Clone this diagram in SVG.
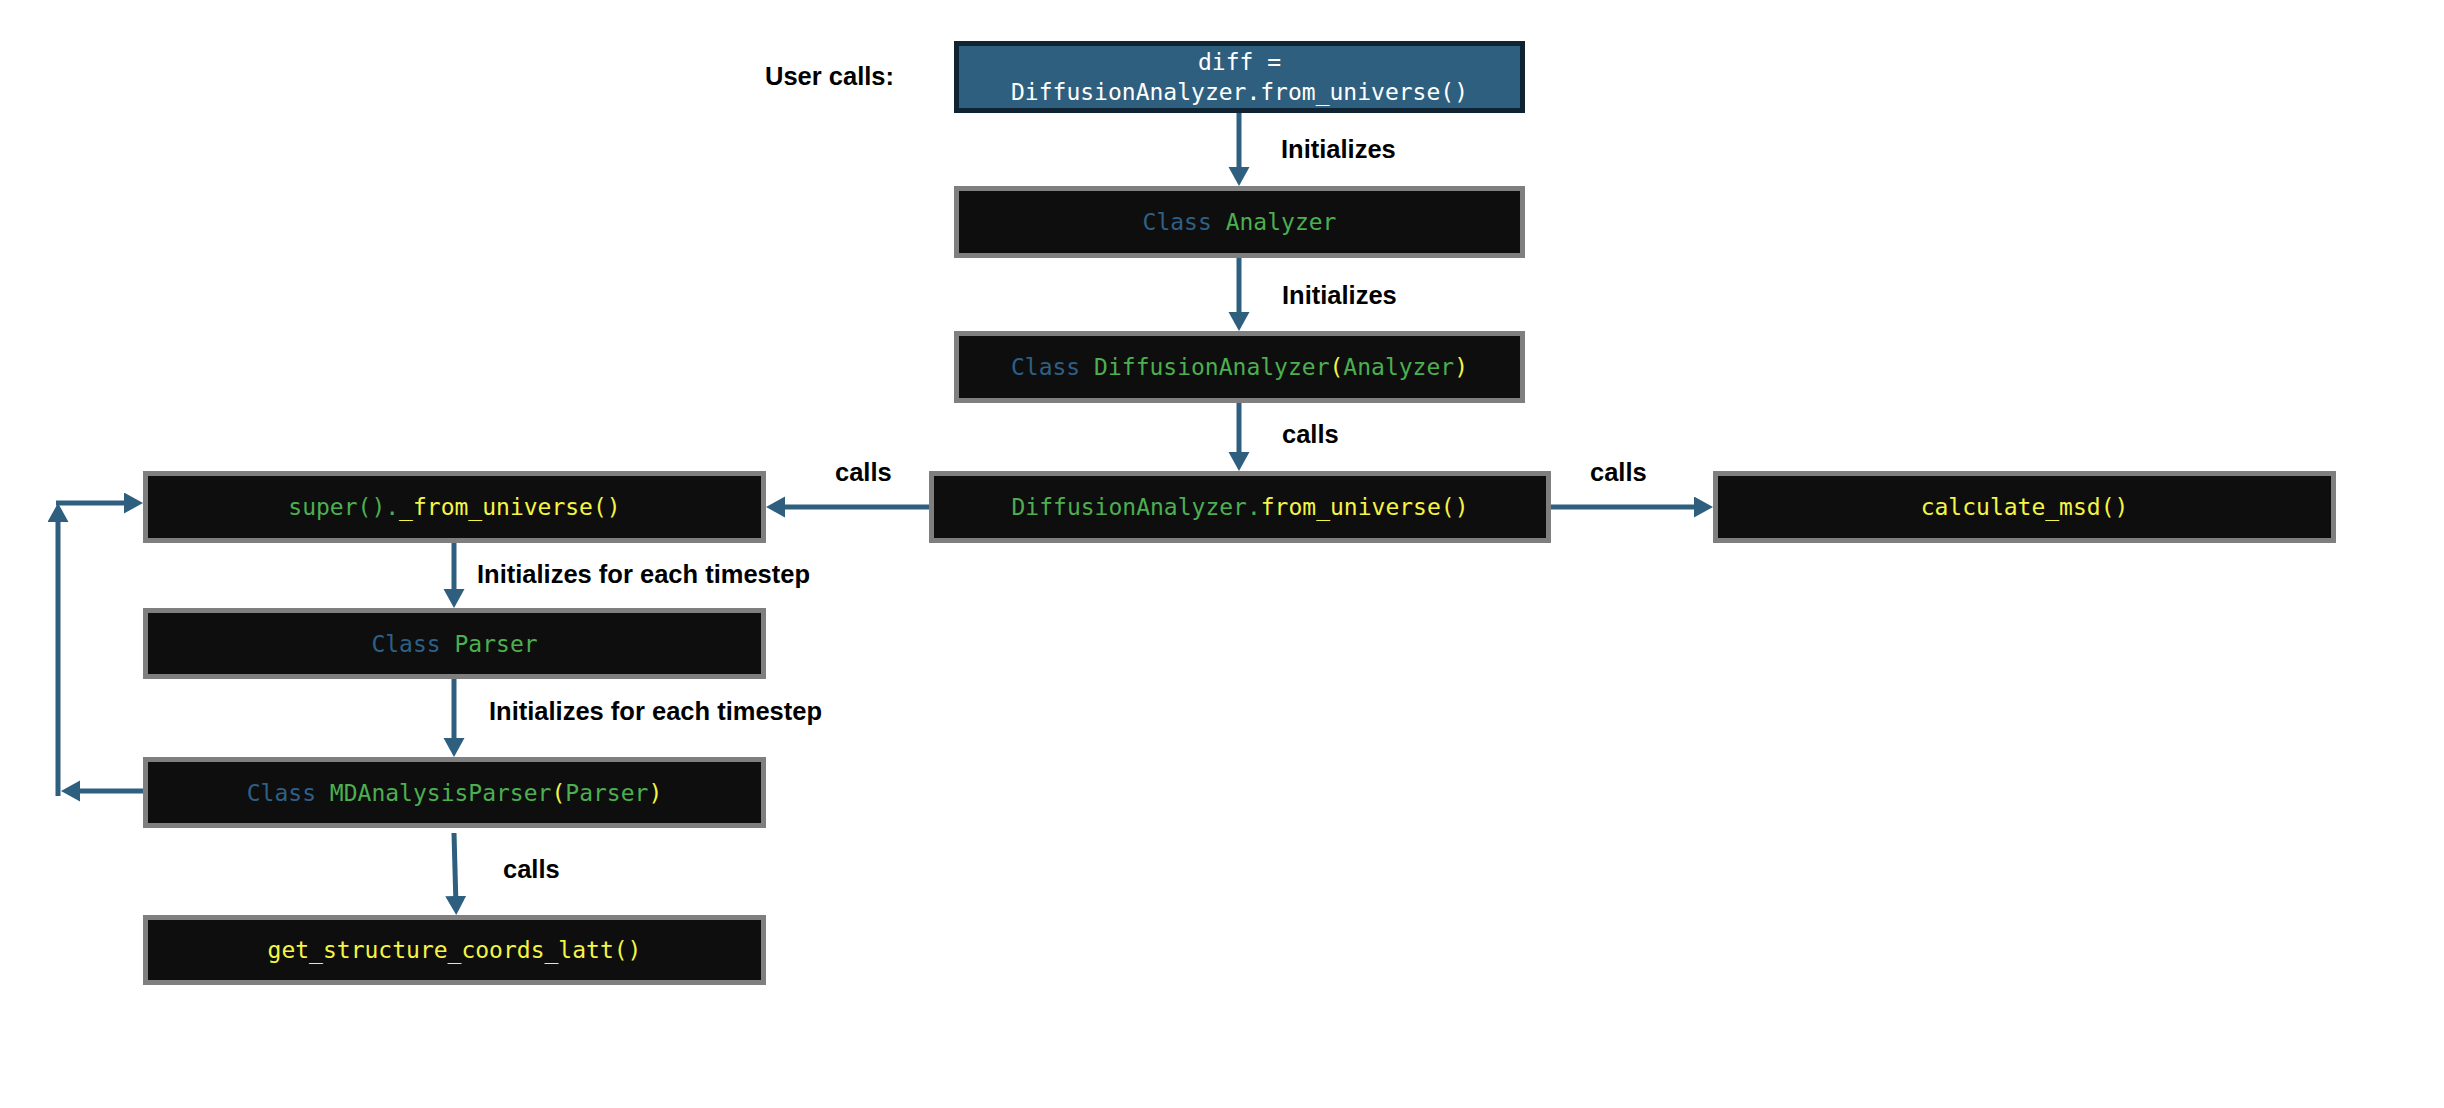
<svg xmlns="http://www.w3.org/2000/svg" width="2444" height="1108" viewBox="0 0 2444 1108">
<style>
.box{fill:#0e0e0e;stroke:#7f7f7f;stroke-width:5}
.top{fill:#2f5f7e;stroke:#0f2333;stroke-width:5}
.code{font-family:"DejaVu Sans Mono","Liberation Mono",monospace;font-size:23px;text-anchor:middle}
.lbl{font-family:"Liberation Sans",Arial,sans-serif;font-weight:bold;font-size:25.5px;fill:#000}
.kw{fill:#2e6086}
.gr{fill:#4caf50}
.ye{fill:#f5f543}
.wh{fill:#ffffff}
.conn{stroke:#2e5f7f;stroke-width:5;fill:none;marker-end:url(#ah)}
</style>
<defs>
<marker id="ah" markerUnits="userSpaceOnUse" markerWidth="20" markerHeight="22" refX="10" refY="10.5" orient="auto">
<path d="M0,0 L19,10.5 L0,21 z" fill="#2e5f7f"/>
</marker>
</defs>
<rect width="2444" height="1108" fill="#ffffff"/>
<g id="connectors">
<line class="conn" x1="1239" y1="113" x2="1239" y2="177"/>
<line class="conn" x1="1239" y1="258" x2="1239" y2="322"/>
<line class="conn" x1="1239" y1="403" x2="1239" y2="462"/>
<line class="conn" x1="929" y1="507" x2="775" y2="507"/>
<line class="conn" x1="1551" y1="507" x2="1704" y2="507"/>
<line class="conn" x1="454" y1="543" x2="454" y2="599"/>
<line class="conn" x1="454" y1="679" x2="454" y2="748"/>
<line class="conn" x1="454" y1="833" x2="456" y2="906"/>
<line class="conn" x1="143" y1="791" x2="70" y2="791"/>
<line class="conn" x1="58" y1="796" x2="58" y2="512"/>
<line class="conn" x1="56" y1="503" x2="134" y2="503"/>
</g>
<g id="labels">
<text class="lbl" x="765" y="85">User calls:</text>
<text class="lbl" x="1281" y="158">Initializes</text>
<text class="lbl" x="1282" y="304">Initializes</text>
<text class="lbl" x="1282" y="443">calls</text>
<text class="lbl" x="835" y="481">calls</text>
<text class="lbl" x="1590" y="481">calls</text>
<text class="lbl" x="477" y="583">Initializes for each timestep</text>
<text class="lbl" x="489" y="720">Initializes for each timestep</text>
<text class="lbl" x="503" y="878">calls</text>
</g>
<g id="node-user-call">
<rect class="top" x="956.5" y="43.5" width="566" height="67"/>
<text class="code wh" x="1239.5" y="70">diff =</text>
<text class="code wh" x="1239.5" y="100">DiffusionAnalyzer.from_universe()</text>
</g>
<g id="node-analyzer">
<rect class="box" x="956.5" y="188.5" width="566" height="67"/>
<text class="code" x="1239.5" y="230"><tspan class="kw">Class</tspan> <tspan class="gr">Analyzer</tspan></text>
</g>
<g id="node-diffusion-analyzer">
<rect class="box" x="956.5" y="333.5" width="566" height="67"/>
<text class="code" x="1239.5" y="375"><tspan class="kw">Class</tspan> <tspan class="gr">DiffusionAnalyzer</tspan><tspan class="ye">(</tspan><tspan class="gr">Analyzer</tspan><tspan class="ye">)</tspan></text>
</g>
<g id="node-from-universe">
<rect class="box" x="931.5" y="473.5" width="617" height="67"/>
<text class="code" x="1240" y="515"><tspan class="gr">DiffusionAnalyzer.</tspan><tspan class="ye">from_universe()</tspan></text>
</g>
<g id="node-super-from-universe">
<rect class="box" x="145.5" y="473.5" width="618" height="67"/>
<text class="code" x="454.5" y="515"><tspan class="gr">super().</tspan><tspan class="ye">_from_universe()</tspan></text>
</g>
<g id="node-calculate-msd">
<rect class="box" x="1715.5" y="473.5" width="618" height="67"/>
<text class="code ye" x="2024.5" y="515">calculate_msd()</text>
</g>
<g id="node-parser">
<rect class="box" x="145.5" y="610.5" width="618" height="66"/>
<text class="code" x="454.5" y="652"><tspan class="kw">Class</tspan> <tspan class="gr">Parser</tspan></text>
</g>
<g id="node-mdanalysis-parser">
<rect class="box" x="145.5" y="759.5" width="618" height="66"/>
<text class="code" x="454.5" y="801"><tspan class="kw">Class</tspan> <tspan class="gr">MDAnalysisParser</tspan><tspan class="ye">(</tspan><tspan class="gr">Parser</tspan><tspan class="ye">)</tspan></text>
</g>
<g id="node-get-structure">
<rect class="box" x="145.5" y="917.5" width="618" height="65"/>
<text class="code ye" x="454.5" y="958">get_structure_coords_latt()</text>
</g>
</svg>
